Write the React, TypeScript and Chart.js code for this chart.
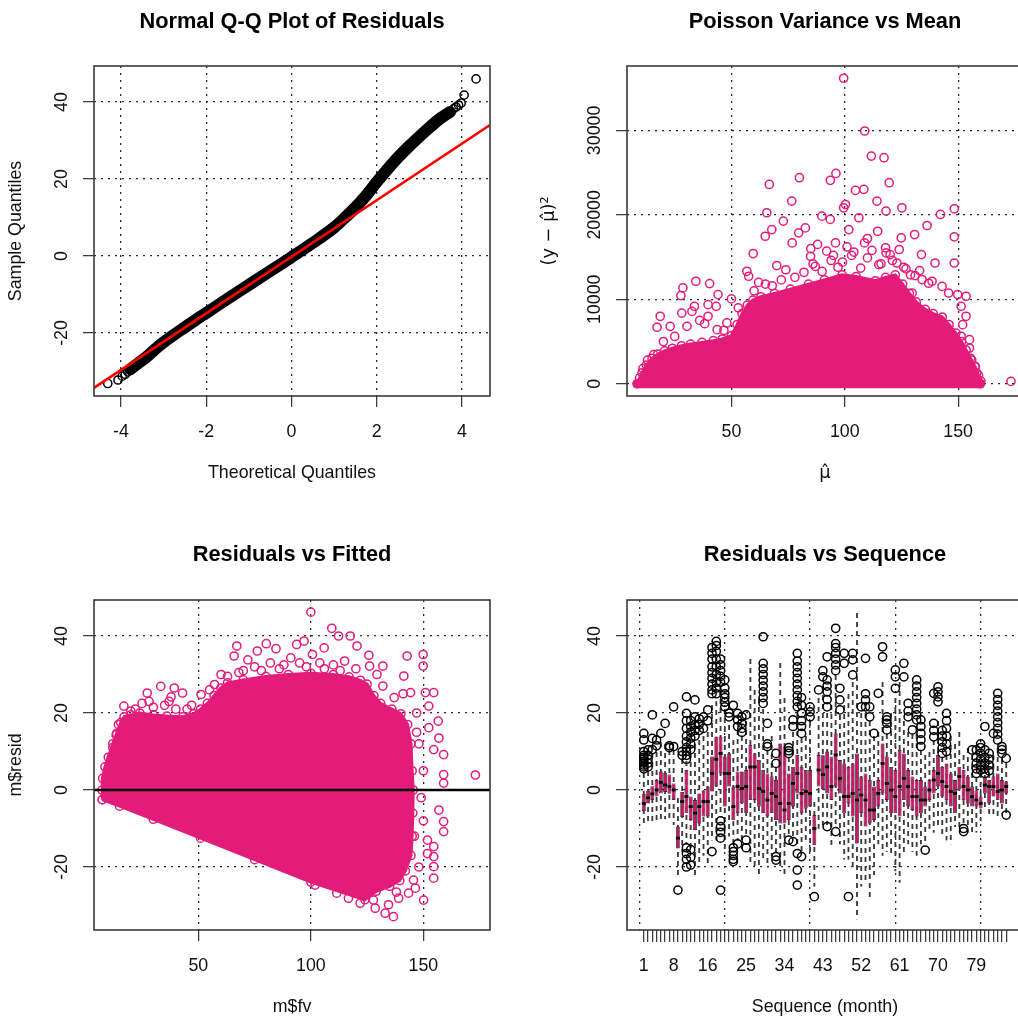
import React, { useEffect, useRef } from 'react';
import { Chart, registerables } from 'chart.js';

Chart.register(...registerables);

const FONT = '"Liberation Sans", Arial, Helvetica, sans-serif';
const MATH_FONT = '"DejaVu Sans", "Liberation Sans", sans-serif';
const PINK = '#E31C7A';
const BOX_FILL = '#CC1468';
const INK = '#111111';
const GRID = '#2a2a2a';
const BASE_SIZE = 17.8;
const TITLE_SIZE = 21.8;

// ---------------- Panel 1 : Normal Q-Q plot ----------------
const qqTitle = 'Normal Q-Q Plot of Residuals';
const qqXTitle = 'Theoretical Quantiles';
const qqYTitle = 'Sample Quantiles';
const qqXTicks = [-4, -2, 0, 2, 4];
const qqYTicks = [-20, 0, 20, 40];
const qqXRange = [-4.633, 4.657];
const qqYRange = [-36.36, 49.35];
const qqBandQ = [-3.78, -3.6, -3.4, -3.2, -3.0, -2.75, -2.5, -2.25, -2.0, -1.5, -1.0, -0.5, 0.0, 0.5, 1.0, 1.25, 1.5, 1.75, 2.0, 2.25, 2.5, 2.75, 3.0, 3.25, 3.5, 3.72];
const qqBandS = [-29.4, -27.9, -26.2, -24.2, -22.4, -20.4, -18.5, -16.6, -14.8, -11.1, -7.5, -3.9, -0.3, 3.4, 7.4, 9.9, 12.6, 15.7, 19.2, 22.5, 25.6, 28.4, 31.0, 33.5, 35.8, 37.4];
const qqTailQ = [-4.31, -4.07, -3.97, -3.9, -3.84, 3.8, 3.86, 3.92, 3.98, 4.05, 4.33];
const qqTailS = [-33.1, -32.2, -31.2, -30.7, -30.1, 38.2, 38.7, 39.2, 39.7, 41.8, 46.0];
const qqLineIntercept = -0.2;
const qqLineSlope = 7.35;

// ---------------- Panel 2 : Poisson variance vs mean ----------------
const pvTitle = 'Poisson Variance vs Mean';
const pvXTitle = '\u03BC\u0302';
const pvYTitle = '(y \u2212 \u03BC\u0302)\u00B2';
const pvXTicks = [50, 100, 150];
const pvYTicks = [0, 10000, 20000, 30000];
const pvXRange = [3.95, 178.6];
const pvYRange = [-1450, 37630];
const pvEnvMu = [8.4, 9.5, 10.6, 12.5, 15, 17.5, 20.5, 24, 28, 32, 37, 42, 46, 50, 52.5, 54.7, 57, 59.5, 63, 69, 76, 84, 91, 98.8, 105, 113.5, 118, 122.3, 125.5, 128.5, 131.5, 135.5, 139, 143, 146, 149, 151.5, 153.5, 155.5, 157.5, 159, 159.8];
const pvEnvVar = [0, 700, 1300, 2200, 3000, 3500, 3900, 4200, 4500, 4700, 4900, 5100, 5300, 5700, 7000, 8300, 9300, 9900, 10300, 10700, 11200, 11800, 12300, 12900, 12700, 12200, 12600, 12900, 11800, 10700, 9700, 8800, 8300, 7900, 7000, 6000, 5000, 4000, 3000, 2000, 1000, 0];
const pvOutMu = [99.5, 108.8, 111.7, 117.3, 119.6, 96.1, 93.6, 80, 66.7, 104.7, 108.4, 76.6, 114.2, 125.2, 148.3, 99.5, 100.3, 65.6, 118.2, 142.2, 89.9, 106.2, 93.6, 72.9, 148.3, 67.8, 82.6, 101.8, 136.3, 114.5, 124.9, 130.8, 64.9, 79.7, 95.9, 108.7, 148.3, 59.6, 76.8, 133.8, 118.2, 84.9, 139.8, 57.6, 56.8, 34.3, 40.4, 28.6, 44.1, 27.7, 50, 33.7, 39.7, 43.3, 28.1, 32.6, 18.6, 39.7, 38.2, 17.2, 23, 30.4, 43.7, 46.7, 15.7, 151.3, 149.8, 153.5, 151.3, 153.5, 152, 155, 155, 157.6, 158.2, 173.3, 142.9, 138.5, 134.1, 129.7, 145.8, 88, 92, 103, 110, 121, 70, 74, 62, 86, 97, 115, 127, 131, 65, 60, 53, 48, 36, 25, 20, 13, 11, 156, 158.5, 160, 82, 87, 94, 99, 104, 107, 112, 116, 120, 123, 126, 129, 133, 137, 78, 72, 68, 90, 101, 110, 118, 124, 85, 95];
const pvOutVar = [36180, 29930, 26960, 26770, 23810, 24910, 24090, 24400, 23600, 22900, 23020, 21630, 21630, 20840, 20720, 20840, 21230, 20250, 20450, 20050, 19850, 19660, 19460, 19260, 17400, 18260, 18460, 18260, 18740, 18060, 17280, 17670, 17470, 17870, 16680, 16680, 14300, 15420, 16680, 15300, 15500, 15100, 14300, 12730, 13320, 12140, 11860, 11350, 10560, 10440, 10050, 9170, 9370, 9170, 8370, 8570, 7990, 7990, 7120, 6690, 6800, 6800, 6410, 6330, 3440, 5620, 10560, 10360, 9170, 7990, 7000, 5220, 4230, 2060, 1270, 280, 11530, 12140, 12340, 10750, 10750, 16500, 15700, 15200, 14900, 14600, 14000, 13500, 12000, 14200, 13800, 14100, 13600, 12800, 11800, 11000, 9000, 7200, 7500, 5600, 5000, 2800, 1800, 2800, 500, 300, 13200, 13900, 14600, 14400, 15600, 13700, 15800, 14200, 15300, 14300, 13800, 12900, 13400, 11900, 12600, 12300, 11600, 13300, 16200, 17200, 16100, 15900, 16000, 15200];

// ---------------- Panel 3 : Residuals vs fitted ----------------
const rfTitle = 'Residuals vs Fitted';
const rfXTitle = 'm$fv';
const rfYTitle = 'm$resid';
const rfXTicks = [50, 100, 150];
const rfYTicks = [-20, 0, 20, 40];
const rfXRange = [3.64, 179.6];
const rfYRange = [-36.36, 49.35];
const rfEnvFv = [7.3, 7.2, 7.5, 8.5, 10, 12, 13.7, 15.5, 17, 20, 24, 30, 36, 43, 48, 51, 54, 57, 60, 63, 70, 80, 90, 100, 110, 117, 122, 125, 128, 131, 136, 140, 143, 144.5, 145, 145.5, 145.3, 145, 144.5, 142, 139.5, 135, 129, 124, 100, 75, 51, 30, 15, 7.3];
const rfEnvRes = [-2.5, 0, 3, 6, 8.5, 12, 14.7, 17.5, 19, 19.5, 20, 19.5, 19.2, 19, 19.8, 21, 22.5, 24.5, 26.5, 27.8, 28.6, 29.5, 30, 30.3, 30, 29.4, 28.5, 27.5, 24.5, 22.5, 21, 19.8, 17, 12, 5, 0, -6, -12, -17, -21, -23.5, -25, -26.3, -28.5, -23.9, -18.1, -12.5, -7.6, -4.2, -2.5];
const rfOutFv = [100, 109.3, 112.3, 117.5, 120.5, 125.8, 126.1, 132, 129.4, 149.9, 149.9, 142.8, 141.3, 67.1, 65.9, 76.2, 80.2, 84.5, 93.7, 97, 91.1, 100.7, 105.9, 72, 60.1, 57.2, 51.2, 33.3, 39.3, 43, 27.3, 28.1, 37, 16.9, 37.9, 13.5, 11.3, 144.3, 150.9, 154.6, 152.4, 152.4, 156.6, 156.9, 154.6, 159, 159, 159, 173.1, 156.9, 159, 159, 154.6, 154.6, 154.6, 154.6, 150.1, 146.4, 145.6, 143.4, 139, 134.5, 133, 128.6, 127.8, 121.9, 116.7, 111.5, 136.7, 101.9, 123.4, 151.8, 151.8, 70, 75, 82, 88, 95, 104, 110, 115, 120, 63, 55, 47, 22, 30, 40, 45, 20, 14.5, 12, 147, 148, 150, 149, 150, 148, 86, 98, 106, 113, 78, 68, 25, 35, 132, 137, 141, 138, 147, 146];
const rfOutRes = [46.2, 42, 40, 40, 37.4, 35, 32.2, 32.2, 30, 35.2, 32.2, 34.8, 29.6, 37.4, 34.8, 36.1, 38, 36.7, 37.8, 38.7, 34.3, 35.2, 36.9, 33.8, 30, 27.4, 24.8, 26.9, 26.5, 25.2, 25.2, 23, 23, 21.8, 24.2, 14.3, 8.3, 25.3, 25.3, 25.3, 21.8, 16.2, 17.9, 13.5, 10.5, 9.2, 4, 1.8, 3.9, -5.2, -8.2, -10.8, -14.7, -17.3, -19.9, -22.9, -28.6, -25.5, -23.4, -26.8, -28.1, -29.8, -32, -30.7, -28.6, -29.4, -28.1, -26.8, -32.9, -24.7, -26, -16.5, -13, 31, 32, 33, 32.5, 33, 33, 32.5, 33.5, 31.5, 29.5, 26, 22, 21, 21.5, 21, 21, 20.5, 17, 11, 20, 12, 5, -2, -8, -20, 31.5, 32, 31.5, 31, 31, 30.5, 22.5, 22, 27, 24, 25, -26.5, 15, -12];
const rfRefLine = 0;

// ---------------- Panel 4 : Residuals vs sequence (boxplots) ----------------
const sqTitle = 'Residuals vs Sequence';
const sqXTitle = 'Sequence (month)';
const sqLabelTicks = [1, 8, 16, 25, 34, 43, 52, 61, 70, 79];
const sqGridTicks = [0, 20, 40, 60, 80];
const sqYTicks = [-20, 0, 20, 40];
const sqXRange = [-2.94, 89.94];
const sqYRange = [-36.36, 49.35];
const boxQ1 = [-5.5, -3.5, -2.6, -1.7, -0.9, -0.5, -1.0, -2.6, -15.2, -7.0, -6.0, -7.8, -10.4, -8.7, -6.9, -6.9, -0.4, 0.9, 4.3, -4.3, 0.9, -7.8, -6.0, -3.5, -6.0, -2.6, -2.6, -4.3, -6.0, -6.9, -6.0, -7.8, -8.7, -8.7, -7.8, -4.3, -0.9, -6.0, -4.8, -4.3, -14.3, 0.9, 0.0, -0.9, -2.6, 0.9, -0.9, -6.0, -3.5, -6.9, -13.9, -6.0, -9.5, -8.7, -7.8, -4.3, -0.9, -2.6, -6.0, -6.0, -6.9, -2.6, -4.3, -5.2, -6.9, -6.0, -4.3, -2.6, -0.9, 0.9, -1.7, -2.6, -4.3, -6.0, 0.0, -2.6, -3.5, -4.3, -4.3, -4.8, -0.9, -3.5, -1.7, -2.6, -3.5, -0.9];
const boxMed = [-3.5, -2.0, -1.0, 0.0, 2.0, 1.3, 0.9, 0.0, -12.5, -3.0, -1.7, -4.3, -6.0, -4.3, -3.0, -3.0, 4.3, 8.0, 9.5, 4.3, 4.3, -4.3, 0.9, 0.4, 0.9, 6.0, 6.0, 0.4, -0.4, -2.6, -0.9, -1.7, -3.5, -5.2, -3.5, 1.7, 4.3, -0.9, -0.4, -0.9, -10.0, 5.2, 4.0, 6.0, 0.9, 9.1, 3.0, -1.7, -1.7, -0.9, -2.6, -1.3, -2.6, -5.2, -5.2, -0.9, 6.9, 1.7, 0.0, -1.7, 0.9, 3.0, 0.9, -1.7, -1.7, -2.6, -2.6, 0.0, 2.6, 4.3, 2.2, 0.9, -0.4, -0.9, 3.5, 0.9, 0.0, -1.7, -2.6, -3.5, 1.3, 0.9, 0.9, -0.4, 0.0, 0.9];
const boxQ3 = [-1.0, 0.0, 1.0, 2.6, 4.8, 4.5, 4.0, 1.7, -9.5, -0.5, 5.2, -1.7, -2.6, -0.9, 0.0, 0.9, 8.7, 13.9, 13.9, 8.7, 9.5, 0.9, 4.8, 4.8, 5.2, 11.7, 9.5, 7.8, 5.2, 4.3, 3.5, 2.6, 12.1, 11.3, 4.3, 6.0, 9.1, 6.0, 5.2, 5.2, -6.5, 9.1, 9.0, 10.0, 8.7, 14.7, 7.8, 6.9, 6.0, 6.9, 9.5, 3.5, 4.3, 2.6, 0.9, 2.6, 12.1, 8.7, 6.0, 5.2, 10.4, 9.5, 5.2, 3.5, 2.6, 2.6, 0.9, 2.6, 5.2, 9.1, 6.0, 6.9, 4.3, 2.6, 6.0, 5.2, 3.5, 0.9, 0.0, -1.7, 3.5, 2.6, 3.5, 4.3, 2.6, 2.2];
const whiskLo = [-8.5, -8, -8, -8, -8.5, -7.5, -8, -9, -23, -16, -14, -15, -22, -20, -17, -19, -13, -13, -6.5, -16, -12, -14, -13, -16, -12, -19, -20, -22, -18, -20, -17, -16, -21, -22, -12, -12, -15, -16, -14, -16, -25, -10, -9, -9, -15, -9, -14, -18, -18, -20, -33.5, -25, -24, -28.6, -22, -14, -17, -16, -17, -21, -24, -16, -14, -16, -17, -14, -14, -10, -11, -9, -12, -13, -14, -9.5, -10, -9, -11, -11, -11, -8, -5, -7, -7, -7, -6, -6];
const whiskHi = [4.5, 5, 9.5, 10, 12.5, 12, 10.5, 10.5, -2, 8, 7.5, 9.5, 12, 13, 14, 15, 22, 23, 26, 21, 17, 13, 15.5, 14, 18, 34, 26, 24, 21, 10.5, 14, 6, 33, 24, 8.5, 15, 20, 13.5, 14, 18, -3, 24, 27, 20, 22, 30, 19.5, 22, 25, 28, 46, 20, 20, 18, 14, 15, 28, 14.5, 20, 24, 28, 18, 15, 14.5, 17, 10.5, 9, 10, 13, 18, 8.5, 9, 14, 12, 15, 9, 11, 9, 3.5, 4.5, 4, 4.5, 9, 11, 8, 7];
const boxOutliers = [
  [1, 5.5], [1, 6], [1, 6.5], [1, 7], [1, 7.5], [1, 8], [1, 8.5], [1, 9], [1, 10], [1, 13], [1, 14.7],
  [2, 6], [2, 7], [2, 8], [2, 9], [2, 10.4], [3, 10.5], [3, 13.4], [3, 19.5], [4, 11.5], [4, 13],
  [5, 14.7], [6, 17.3], [7, 11], [7, 11.5], [8, 11.3], [8, 21.6], [9, -26], [10, 9], [10, 10],
  [11, 24.2], [11, 8], [11, 9], [11, 10], [11, 11], [11, 12.5], [11, 14], [11, 16], [11, 18], [11, 19.9],
  [11, -15], [11, -16.5], [11, -18], [11, -20], [12, 10.5], [12, 12], [12, 13.5], [12, 15], [12, 16.5], [12, 18],
  [12, -15.5], [12, -17.5], [12, -19.5], [13, 14], [13, 15.5], [13, 17], [13, 19], [13, 23.4], [14, 15.5], [14, 17],
  [14, 18.5], [15, 16], [15, 19], [16, 18], [16, 20.8], [17, 25], [17, 26], [17, 27.5], [17, 29], [17, 30.5],
  [17, 32], [17, 34], [17, 35.5], [17, 37], [17, -16], [18, 25], [18, 26.5], [18, 28], [18, 30], [18, 32],
  [18, 34], [18, 36], [18, 37.5], [18, 38.6], [19, 28], [19, 29.5], [19, 31], [19, 32.5], [19, 34], [19, -8],
  [19, -9.5], [19, -11], [19, -12.5], [19, -26], [20, 21.6], [20, 22.8], [20, 24], [20, 25], [20, 26.5], [20, 28.6],
  [21, 19], [21, 20], [22, -15], [22, -16], [22, -17], [22, -18], [22, -18.6], [22, 22], [23, 16.5], [23, 18.2],
  [23, 19.9], [23, -14], [24, 15], [24, 16], [24, 17.3], [24, 19], [25, -13], [25, -15], [25, 19.5],
  [29, 22.5], [29, 24], [29, 25.5], [29, 27], [29, 28.5], [29, 30], [29, 31.5], [29, 32.9], [29, 39.8],
  [30, 11.3], [30, 12], [30, 17.3], [32, 6.9], [32, 9.5], [32, -17.3], [32, -18.2], [35, 9.5], [35, 10.2], [35, 11],
  [35, -13], [36, 16.5], [36, 18.2], [36, -13.4], [37, 21.6], [37, 23], [37, 24.5], [37, 26], [37, 27.5], [37, 29],
  [37, 30.5], [37, 32], [37, 33.5], [37, 35.5], [37, -16.5], [37, -20.8], [37, -24.7], [38, 14.7], [38, 16.5], [38, 18],
  [38, 20], [38, 22], [38, 24], [38, -17.3], [40, 19], [40, 20.3], [40, 21.6], [41, -27.7], [42, 26], [43, 29.4],
  [43, 31], [44, 21.6], [44, 23.5], [44, 25.5], [44, 27], [44, 28.6], [44, 34.6], [44, -9.5], [46, 31], [46, 32.5],
  [46, 34], [46, 35.5], [46, 37], [46, 38], [46, 42], [46, -10.8], [47, 20.8], [47, 23.4], [47, 26.4], [48, 32.9],
  [48, 35.5], [49, -27.7], [50, 29.9], [50, 33.8], [50, 35.5], [52, 21.6], [53, 21.6], [53, 23.4], [53, 25], [53, 34.2],
  [54, 19], [54, 21.6], [55, 14.7], [56, 25.1], [57, 34.6], [57, 37.2], [58, 15.6], [58, 17.3], [58, 18.2], [58, 19],
  [60, 26.4], [60, 29.4], [60, 31.2], [62, 29.4], [62, 32.9], [63, 19], [63, 20.5], [63, 22.5], [64, 15.6], [65, 18.2],
  [65, 19.5], [65, 21], [65, 22.5], [65, 24], [65, 25.5], [65, 27], [65, 28.6], [66, 11.3], [66, 13], [66, 14.7],
  [66, 16.5], [66, 18.2], [67, -15.6], [69, 13.8], [69, 15.5], [69, 17.3], [69, 25.1], [70, 22.9], [70, 24.2], [70, 25.5],
  [70, 26.8], [71, 9.5], [71, 11], [71, 12.5], [71, 14], [71, 15.5], [72, 10], [72, 12], [72, 14], [72, 16],
  [72, 18], [72, 19.9], [76, -10], [76, -10.8], [78, 10.4], [79, 4.3], [79, 5.5], [79, 7], [79, 8.5], [79, 10.4],
  [80, 5.2], [80, 6.5], [80, 8], [80, 9.5], [80, 11], [80, 12], [81, 4.3], [81, 5.5], [81, 7], [81, 8.5],
  [81, 10.4], [81, 16.5], [82, 5], [82, 6.5], [82, 8], [82, 9.5], [83, 14.7], [84, 13], [84, 14.5], [84, 16],
  [84, 17.5], [84, 19], [84, 20.5], [84, 22], [84, 23.5], [84, 25.1], [85, 9.5], [85, 10.5], [85, 11.3], [86, 8.2],
  [86, -6.5],
];

// ---------------- layout of the four panels (page pixels) ----------------
type Geom = { left: number; top: number; w: number; h: number; area: { l: number; r: number; t: number; b: number } };
const G_TL: Geom = { left: 0, top: 0, w: 509, h: 510, area: { l: 94, r: 490, t: 66, b: 396 } };
const G_TR: Geom = { left: 509, top: 0, w: 530, h: 510, area: { l: 118, r: 514, t: 66, b: 396 } };
const G_BL: Geom = { left: 0, top: 533, w: 509, h: 488, area: { l: 94, r: 490, t: 67, b: 397 } };
const G_BR: Geom = { left: 509, top: 533, w: 530, h: 488, area: { l: 118, r: 514, t: 67, b: 397 } };

type Deco = { xLabels: number[]; xText: string[]; yLabels: number[]; yText: string[]; xTitle: string; yTitle: string | null; titleFont?: string };

function makeDeco(d: Deco) {
  return {
    id: 'rdeco',
    afterDraw(chart: any) {
      const { ctx, chartArea: a } = chart;
      const xs = chart.scales.x;
      const ys = chart.scales.y;
      ctx.save();
      ctx.setLineDash([]);
      ctx.strokeStyle = '#3a3a3a';
      ctx.lineWidth = 1.6;
      ctx.strokeRect(a.left, a.top, a.right - a.left, a.bottom - a.top);
      ctx.fillStyle = INK;
      ctx.font = `${BASE_SIZE}px ${FONT}`;
      ctx.textAlign = 'center';
      ctx.textBaseline = 'middle';
      d.xLabels.forEach((v, i) => ctx.fillText(d.xText[i], xs.getPixelForValue(v), a.bottom + 36));
      d.yLabels.forEach((v, i) => {
        ctx.save();
        ctx.translate(a.left - 32, ys.getPixelForValue(v));
        ctx.rotate(-Math.PI / 2);
        ctx.fillText(d.yText[i], 0, 0);
        ctx.restore();
      });
      ctx.font = `${BASE_SIZE}px ${d.titleFont || FONT}`;
      ctx.fillText(d.xTitle, (a.left + a.right) / 2, a.bottom + 77);
      if (d.yTitle) {
        ctx.save();
        ctx.translate(a.left - 78, (a.top + a.bottom) / 2);
        ctx.rotate(-Math.PI / 2);
        ctx.fillText(d.yTitle, 0, 0);
        ctx.restore();
      }
      ctx.restore();
    },
  };
}

function axisX(g: Geom, range: number[], ticks: number[], drawGrid: boolean, tickLen: number) {
  return {
    type: 'linear',
    position: 'bottom',
    axis: 'x',
    min: range[0],
    max: range[1],
    bounds: 'data',
    offset: false,
    afterBuildTicks: (s: any) => {
      s.ticks = ticks.map((v) => ({ value: v }));
    },
    afterFit: (s: any) => {
      s.height = g.h - g.area.b;
    },
    ticks: { display: false },
    grid: {
      display: true,
      drawOnChartArea: drawGrid,
      drawTicks: true,
      tickLength: tickLen,
      tickWidth: 1.2,
      tickColor: '#333',
      tickBorderDash: [],
      color: GRID,
      lineWidth: 1.3,
      offset: false,
    },
    border: { display: false, dash: [2, 5] },
  };
}

function axisY(g: Geom, range: number[], ticks: number[]) {
  return {
    type: 'linear',
    position: 'left',
    axis: 'y',
    min: range[0],
    max: range[1],
    bounds: 'data',
    afterBuildTicks: (s: any) => {
      s.ticks = ticks.map((v) => ({ value: v }));
    },
    afterFit: (s: any) => {
      s.width = g.area.l;
    },
    ticks: { display: false },
    grid: {
      display: true,
      drawOnChartArea: true,
      drawTicks: true,
      tickLength: 11,
      tickWidth: 1.2,
      tickColor: '#333',
      tickBorderDash: [],
      color: GRID,
      lineWidth: 1.3,
    },
    border: { display: false, dash: [2, 5] },
  };
}

function baseOptions(g: Geom, title: string, scales: any) {
  const lh = TITLE_SIZE * 1.2;
  const padTop = 21.5 - lh / 2;
  return {
    responsive: false,
    maintainAspectRatio: false,
    animation: false,
    devicePixelRatio: 1,
    events: [],
    layout: { padding: { left: 0, right: g.w - g.area.r, top: 0, bottom: 0 } },
    plugins: {
      legend: { display: false },
      tooltip: { enabled: false },
      title: {
        display: true,
        text: title,
        fullSize: false,
        color: '#000',
        font: { family: FONT, size: TITLE_SIZE, weight: 'bold', lineHeight: 1.2 },
        padding: { top: padTop, bottom: g.area.t - padTop - lh },
      },
    },
    scales,
  };
}

const str = (a: number[]) => a.map((v) => String(v));

const hollow = (color: string) => ({
  pointRadius: 4.1,
  pointBorderWidth: 1.5,
  pointBorderColor: color,
  pointBackgroundColor: 'rgba(0,0,0,0)',
  borderColor: color,
  backgroundColor: 'rgba(0,0,0,0)',
  showLine: false,
});

function buildQQ() {
  const g = G_TL;
  const band = qqBandQ.map((q, i) => ({ x: q, y: qqBandS[i] }));
  const tails = qqTailQ.map((q, i) => ({ x: q, y: qqTailS[i] }));
  const refLine = qqXRange.map((x) => ({ x, y: qqLineIntercept + qqLineSlope * x }));
  return {
    type: 'scatter',
    data: {
      datasets: [
        { type: 'line', data: refLine, borderColor: '#FF0000', borderWidth: 2.6, pointRadius: 0, fill: false, order: 0 },
        {
          type: 'line', data: band, borderColor: '#000', borderWidth: 12, pointRadius: 0, fill: false,
          cubicInterpolationMode: 'monotone', borderCapStyle: 'round', borderJoinStyle: 'round', order: 1,
        },
        { type: 'scatter', data: tails, ...hollow('#000'), order: 2 },
      ],
    },
    options: baseOptions(g, qqTitle, { x: axisX(g, qqXRange, qqXTicks, true, 11), y: axisY(g, qqYRange, qqYTicks) }),
    plugins: [makeDeco({ xLabels: qqXTicks, xText: str(qqXTicks), yLabels: qqYTicks, yText: str(qqYTicks), xTitle: qqXTitle, yTitle: qqYTitle })],
  };
}

function buildPV() {
  const g = G_TR;
  const env = pvEnvMu.map((m, i) => ({ x: m, y: pvEnvVar[i] }));
  const out = pvOutMu.map((m, i) => ({ x: m, y: pvOutVar[i] }));
  const base = [{ x: pvEnvMu[0], y: 0 }, { x: pvEnvMu[pvEnvMu.length - 1], y: 0 }];
  return {
    type: 'scatter',
    data: {
      datasets: [
        { type: 'scatter', data: out, ...hollow(PINK), order: 0 },
        { type: 'line', data: base, borderColor: PINK, borderWidth: 9, borderCapStyle: 'round', pointRadius: 0, fill: false, order: 1 },
        {
          type: 'line', data: env, fill: 'origin', backgroundColor: PINK, borderColor: PINK, borderWidth: 3,
          pointRadius: 4.1, pointBorderWidth: 1.5, pointBorderColor: PINK, pointBackgroundColor: 'rgba(0,0,0,0)', order: 2,
        },
      ],
    },
    options: baseOptions(g, pvTitle, { x: axisX(g, pvXRange, pvXTicks, true, 11), y: axisY(g, pvYRange, pvYTicks) }),
    plugins: [makeDeco({ xLabels: pvXTicks, xText: str(pvXTicks), yLabels: pvYTicks, yText: str(pvYTicks), xTitle: pvXTitle, yTitle: pvYTitle, titleFont: MATH_FONT })],
  };
}

function buildRF() {
  const g = G_BL;
  const env = rfEnvFv.map((f, i) => ({ x: f, y: rfEnvRes[i] }));
  const out = rfOutFv.map((f, i) => ({ x: f, y: rfOutRes[i] }));
  const zero = rfXRange.map((x) => ({ x, y: rfRefLine }));
  return {
    type: 'scatter',
    data: {
      datasets: [
        { type: 'line', data: zero, borderColor: '#000', borderWidth: 2.6, pointRadius: 0, fill: false, order: 0 },
        { type: 'scatter', data: out, ...hollow(PINK), order: 1 },
        {
          type: 'line', data: env, fill: 'shape', backgroundColor: PINK, borderColor: PINK, borderWidth: 3,
          pointRadius: 4.1, pointBorderWidth: 1.5, pointBorderColor: PINK, pointBackgroundColor: 'rgba(0,0,0,0)', order: 2,
        },
      ],
    },
    options: baseOptions(g, rfTitle, { x: axisX(g, rfXRange, rfXTicks, true, 11), y: axisY(g, rfYRange, rfYTicks) }),
    plugins: [makeDeco({ xLabels: rfXTicks, xText: str(rfXTicks), yLabels: rfYTicks, yText: str(rfYTicks), xTitle: rfXTitle, yTitle: rfYTitle })],
  };
}

function makeDashPatterns(ctx: CanvasRenderingContext2D) {
  const period = 9;
  const on = 5;
  const pats: (CanvasPattern | null)[] = [];
  for (let p = 0; p < period; p++) {
    const c = document.createElement('canvas');
    c.width = 4;
    c.height = period;
    const g = c.getContext('2d')!;
    g.fillStyle = '#3c3c3c';
    for (let r = 0; r < on; r++) g.fillRect(0, (p + r) % period, 4, 1);
    pats.push(ctx.createPattern(c, 'repeat'));
  }
  return { pats, period };
}

function buildSQ(ctx: CanvasRenderingContext2D) {
  const g = G_BR;
  const months = boxMed.map((_, i) => i + 1);
  const { pats, period } = makeDashPatterns(ctx);
  const whiskerFill = (c: any) => {
    const k = c.dataIndex;
    if (k === undefined || !c.chart.scales || !c.chart.scales.y) return pats[0];
    const px = Math.round(c.chart.scales.y.getPixelForValue(whiskHi[k]));
    return pats[((px % period) + period) % period];
  };
  const xScale = axisX(g, sqXRange, months, false, 12);
  const xGrid = {
    type: 'linear',
    position: 'top',
    axis: 'x',
    min: sqXRange[0],
    max: sqXRange[1],
    bounds: 'data',
    offset: false,
    afterBuildTicks: (s: any) => {
      s.ticks = sqGridTicks.map((v) => ({ value: v }));
    },
    afterFit: (s: any) => {
      s.height = 0;
    },
    ticks: { display: false },
    grid: { display: true, drawOnChartArea: true, drawTicks: false, color: GRID, lineWidth: 1.3, offset: false },
    border: { display: false, dash: [2, 5] },
  };
  return {
    type: 'bar',
    data: {
      datasets: [
        { type: 'scatter', data: boxOutliers.map(([m, v]) => ({ x: m, y: v })), ...hollow('#000'), order: 0 },
        {
          type: 'scatter', data: months.map((m, k) => ({ x: m, y: boxMed[k] })), pointStyle: 'line', pointRadius: 2.0,
          pointBorderWidth: 2.8, pointBorderColor: '#000', borderColor: '#000', showLine: false, order: 1,
        },
        {
          type: 'bar', data: months.map((m, k) => ({ x: m, y: [boxQ1[k], boxQ3[k]] })), backgroundColor: BOX_FILL,
          borderColor: '#151515', borderWidth: 0.7, borderSkipped: false, grouped: false, categoryPercentage: 0.9, barPercentage: 1, order: 2,
        },
        {
          type: 'bar', data: months.map((m, k) => ({ x: m, y: [whiskLo[k], whiskHi[k]] })), backgroundColor: whiskerFill,
          borderWidth: 0, grouped: false, maxBarThickness: 1.2, categoryPercentage: 1, barPercentage: 1, order: 3,
        },
      ],
    },
    options: baseOptions(g, sqTitle, { x: xScale, xg: xGrid, y: axisY(g, sqYRange, sqYTicks) }),
    plugins: [makeDeco({ xLabels: sqLabelTicks, xText: str(sqLabelTicks), yLabels: sqYTicks, yText: str(sqYTicks), xTitle: sqXTitle, yTitle: null })],
  };
}

function Panel({ geom, build }: { geom: Geom; build: (ctx: CanvasRenderingContext2D) => any }) {
  const ref = useRef<HTMLCanvasElement>(null);
  useEffect(() => {
    const canvas = ref.current;
    if (!canvas) return;
    const ctx = canvas.getContext('2d')!;
    const chart = new Chart(ctx, build(ctx));
    return () => chart.destroy();
  }, []);
  return (
    <canvas
      ref={ref}
      width={geom.w}
      height={geom.h}
      style={{ position: 'absolute', left: geom.left, top: geom.top, width: geom.w, height: geom.h }}
    />
  );
}

export default function App() {
  return (
    <div style={{ position: 'absolute', left: 0, top: 0, width: 1018, height: 1021, overflow: 'hidden', background: '#fff' }}>
      <Panel geom={G_TL} build={buildQQ} />
      <Panel geom={G_TR} build={buildPV} />
      <Panel geom={G_BL} build={buildRF} />
      <Panel geom={G_BR} build={buildSQ} />
    </div>
  );
}
